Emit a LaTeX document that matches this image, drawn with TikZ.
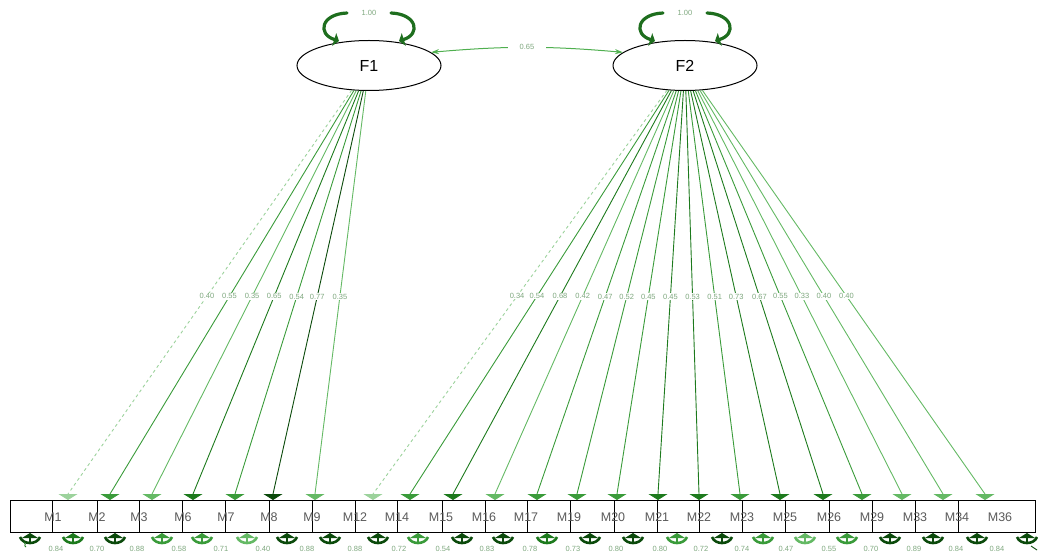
\documentclass[tikz,border=0pt]{standalone}
\usepackage{fontspec}
\setmainfont{Liberation Sans}
\usetikzlibrary{arrows.meta,shapes.geometric,calc}
\definecolor{gA}{HTML}{0B4A0B}
\definecolor{gB}{HTML}{1D7A1D}
\definecolor{gC}{HTML}{3A9B3A}
\definecolor{gD}{HTML}{64B964}
\definecolor{gE}{HTML}{9CD29C}
\definecolor{loopgreen}{HTML}{1E6E1E}
\definecolor{covgreen}{HTML}{4FAF4F}
\definecolor{numgreen}{HTML}{7FA87F}
\definecolor{labelgray}{HTML}{5A5A5A}
\begin{document}
\begin{tikzpicture}[x=1pt,y=-1pt,
  latent/.style={ellipse, draw, line width=1pt, minimum width=144pt, minimum height=50pt, inner sep=0pt, font=\fontsize{16}{18}\selectfont},
  obsbox/.style={draw, line width=1.2pt, minimum height=32pt, inner sep=0pt, anchor=north west},
  obslabel/.style={font=\fontsize{12.5}{14}\selectfont, text=labelgray, inner sep=0pt},
  small/.style={font=\fontsize{7.5}{8}\selectfont, text=numgreen, inner sep=0.6pt},
  loading/.style={line width=0.9pt, -{Triangle[width=19pt,length=6pt]}},
  varloop/.style={line width=3.2pt, draw=loopgreen, line cap=round, -{Triangle[width=13pt,length=5pt]}},
  cov/.style={line width=1pt, draw=covgreen, {Stealth[length=8pt,width=5pt]}-{Stealth[length=8pt,width=5pt]}},
  errarr/.style={line width=2.4pt, -{Triangle[width=16pt,length=5pt]}},
  errarm/.style={line width=2.6pt},
]
\useasboundingbox (0,0) rectangle (1038,556);

% latent variables
\node[latent] (F1) at (369,65.5) {F1};
\node[latent] (F2) at (685,65.5) {F2};

% variance loops
\draw[varloop] ($(F1.north)+(-22,-27)$) .. controls +(-26,1) and +(-22,-7) .. ($(F1.north)+(-30,1)$);
\draw[varloop] ($(F1.north)+(22,-27)$) .. controls +(26,1) and +(22,-7) .. ($(F1.north)+(30,1)$);
\node[small] (v1) at ($(F1.north)+(0,-27)$) {1.00};
\draw[varloop] ($(F2.north)+(-22,-27)$) .. controls +(-26,1) and +(-22,-7) .. ($(F2.north)+(-30,1)$);
\draw[varloop] ($(F2.north)+(22,-27)$) .. controls +(26,1) and +(22,-7) .. ($(F2.north)+(30,1)$);
\node[small] (v2) at ($(F2.north)+(0,-27)$) {1.00};

% covariance
\draw[cov] (F1.12) to[bend left=5] node[small, fill=white, inner xsep=12pt] (c12) {0.65} (F2.168);

% observed boxes
\foreach \a/\b [count=\i] in {10/52,52/97,97/139,139/182,182/225,225/269,269/312,312/355,355/397,397/442,442/485,485/527,527/570,570/614,614/657,657/699,699/742,742/785,785/829,829/872,872/915,915/958,958/1035}{
  \pgfmathsetmacro{\w}{\b-\a}
  \node[obsbox, minimum width=\w pt] (box\i) at (\a,500) {};
}

% box labels
\foreach \x/\t in {53/M1,97/M2,139/M3,183/M6,226/M7,269/M8,312/M9,355/M12,397/M14,441/M15,484/M16,526/M17,569/M19,613/M20,657/M21,699/M22,742/M23,785/M25,829/M26,872/M29,915/M33,957/M34,1000/M36}{
  \node[obslabel] (\t) at (\x,517) {\t};
}

% loadings of F1
\foreach \t/\x/\v/\c/\s in {M1/68/0.40/gE/dashed, M2/110/0.55/gC/solid, M3/152/0.35/gD/solid, M6/193/0.65/gB/solid, M7/235/0.54/gC/solid, M8/273/0.77/gA/solid, M9/315/0.35/gD/solid}{
  \coordinate (t\t) at (\x,500);
  \draw[loading, draw=\c, \s] (F1) -- node[small, fill=white, pos=0.51] {\v} ($(t\t)+(0,-6)$) -- (t\t);
}

% loadings of F2
\foreach \t/\x/\v/\c/\s in {M12/373/0.34/gE/dashed, M14/410/0.54/gC/solid, M15/453/0.68/gB/solid, M16/495/0.42/gD/solid, M17/537/0.47/gC/solid, M19/577/0.52/gC/solid, M20/617/0.45/gC/solid, M21/658/0.45/gB/solid, M22/699/0.53/gB/solid, M23/740/0.51/gC/solid, M25/780/0.73/gB/solid, M26/823/0.67/gB/solid, M29/862/0.55/gC/solid, M33/902/0.33/gD/solid, M34/943/0.40/gD/solid, M36/985/0.40/gD/solid}{
  \coordinate (t\t) at (\x,500);
  \draw[loading, draw=\c, \s] (F2) -- node[small, fill=white, pos=0.51] {\v} ($(t\t)+(0,-6)$) -- (t\t);
}

% error arrows
\foreach \x/\c [count=\i] in {30/gA,73/gB,115/gA,162/gC,202/gC,247/gD,287/gA,330/gA,378/gA,418/gC,462/gA,503/gA,547/gB,590/gA,633/gA,677/gC,722/gA,763/gC,805/gD,847/gC,890/gA,933/gA,977/gA,1027/gA}{
  \coordinate (e\i) at (\x,544);
  \coordinate (u\i) at (\x,533);
  \draw[errarr, draw=\c] (e\i) -- (u\i);
  \draw[errarm, draw=\c] (\x-10,537) .. controls (\x-7,545) and (\x+7,545) .. (\x+10,537);
}
\draw[gB, line width=0.9pt] (e1) ++(-6,-2) .. controls +(3,4) and +(-3,-2) .. +(2,5);
\draw[gA, line width=0.9pt] (e24) ++(4,2) -- +(6,4);

% error variances
\foreach \x/\v in {56/0.84,97/0.70,137/0.88,179/0.58,221/0.71,263/0.40,307/0.88,355/0.88,399/0.72,443/0.54,487/0.83,530/0.78,573/0.73,616/0.80,660/0.80,701/0.72,742/0.74,786/0.47,829/0.55,871/0.70,914/0.89,956/0.84,997/0.84}{
  \node[small] at (\x,549) {\v};
}
\end{tikzpicture}
\end{document}
